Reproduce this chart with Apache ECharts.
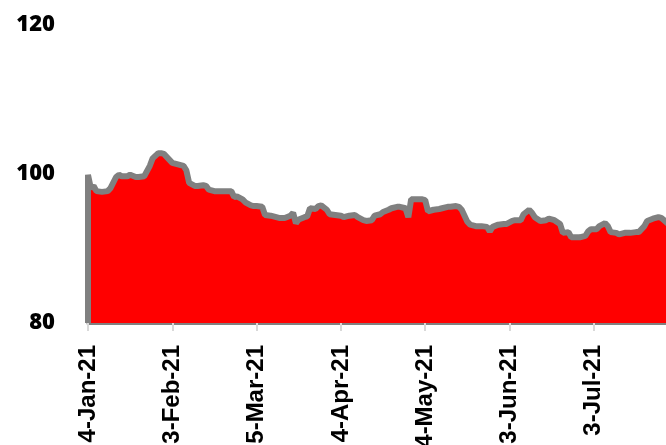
<!DOCTYPE html>
<html>
<head>
<meta charset="utf-8">
<script src="https://cdn.jsdelivr.net/npm/echarts@6/dist/echarts.min.js"></script>
<style>html,body{margin:0;padding:0;background:#fff}#c{width:666px;height:445px}</style>
</head>
<body>
<div id="c"></div>
<script>
// day offsets from 4-Jan-21
const days = [0,0,1,2,3,5,7,8,10,11,12,14,15,17,18,20,22,23,25,26,27,29,30,32,34,35,36,38,39,41,42,43,45,47,49,51,52,53,55,56,58,59,60,62,63,65,67,68,70,72,73,74,75,77,78,79,81,82,83,85,86,88,90,91,93,95,96,98,99,101,102,104,105,107,108,110,111,113,114,115,117,119,120,121,123,125,126,128,129,131,132,133,135,136,138,140,142,143,144,146,148,149,151,152,154,155,157,158,159,161,163,164,166,168,169,171,172,173,175,177,178,179,181,182,184,185,186,188,189,191,193,195,196,198,199,201,203,204,205,208,210];
const values = [80,99.9,98.1,98.4,97.7,97.6,97.7,98.1,99.6,99.9,99.7,99.7,99.9,99.6,99.6,99.7,101.1,102.1,102.8,102.8,102.7,101.9,101.5,101.3,101.1,100.5,98.8,98.4,98.4,98.5,98.4,97.9,97.7,97.7,97.7,97.7,96.9,97.0,96.6,96.2,95.8,95.7,95.7,95.6,94.5,94.4,94.2,94.1,94.1,94.4,94.8,93.4,93.9,94.2,94.3,95.4,95.3,95.7,95.8,95.2,94.6,94.5,94.4,94.2,94.4,94.5,94.2,93.8,93.7,93.8,94.4,94.6,94.9,95.2,95.4,95.6,95.6,95.4,94.2,96.6,96.6,96.6,96.5,95.0,95.2,95.3,95.4,95.6,95.6,95.7,95.6,95.2,93.6,93.2,93.0,93.0,92.9,92.3,92.9,93.2,93.3,93.3,93.7,93.8,93.8,94.6,95.2,94.8,94.2,93.7,93.8,94.0,93.8,93.3,92.1,92.2,91.5,91.5,91.5,91.7,92.3,92.6,92.6,93.0,93.4,93.0,92.2,92.1,91.9,92.1,92.1,92.2,92.2,93.0,93.7,94.0,94.2,94.1,93.8,92.8,92.5];
const tickLabels = ['4-Jan-21','3-Feb-21','5-Mar-21','4-Apr-21','4-May-21','3-Jun-21','3-Jul-21','2-Aug-21'];
const yTicks = [80,100,120];

const chart = echarts.init(document.getElementById('c'), null, {renderer:'canvas'});
chart.setOption({
  animation:false,
  grid:{left:88,right:0,top:25,bottom:122,containLabel:false,outerBoundsMode:'none'},
  xAxis:{
    type:'value', min:0, max:205.7, interval:30,
    axisLine:{show:true, lineStyle:{color:'#808080', width:3}},
    axisTick:{show:true, length:8, lineStyle:{color:'#d9d9d9', width:2}},
    splitLine:{show:false},
    axisLabel:{
      rotate:90, margin:22, showMaxLabel:false,
      fontFamily:'Liberation Sans, Arial, sans-serif', fontWeight:'bold', fontSize:24, color:'#000',
      formatter:function(v){ const i=Math.round(v/30); return (Math.abs(v-i*30)<1e-6 && tickLabels[i]) ? tickLabels[i] : ''; }
    }
  },
  yAxis:{
    type:'value', min:yTicks[0], max:yTicks[2], interval:20,
    axisLine:{show:false}, axisTick:{show:false}, splitLine:{show:false},
    axisLabel:{margin:33, fontFamily:'Open Sans, sans-serif', fontWeight:800, fontSize:22, color:'#000'}
  },
  series:[{
    type:'line',
    data: days.map((d,i)=>[d, values[i]]),
    showSymbol:false, symbol:'none',
    lineStyle:{color:'#808080', width:6},
    areaStyle:{color:'#ff0000', opacity:1},
    clip:true
  }]
});
</script>
</body>
</html>
